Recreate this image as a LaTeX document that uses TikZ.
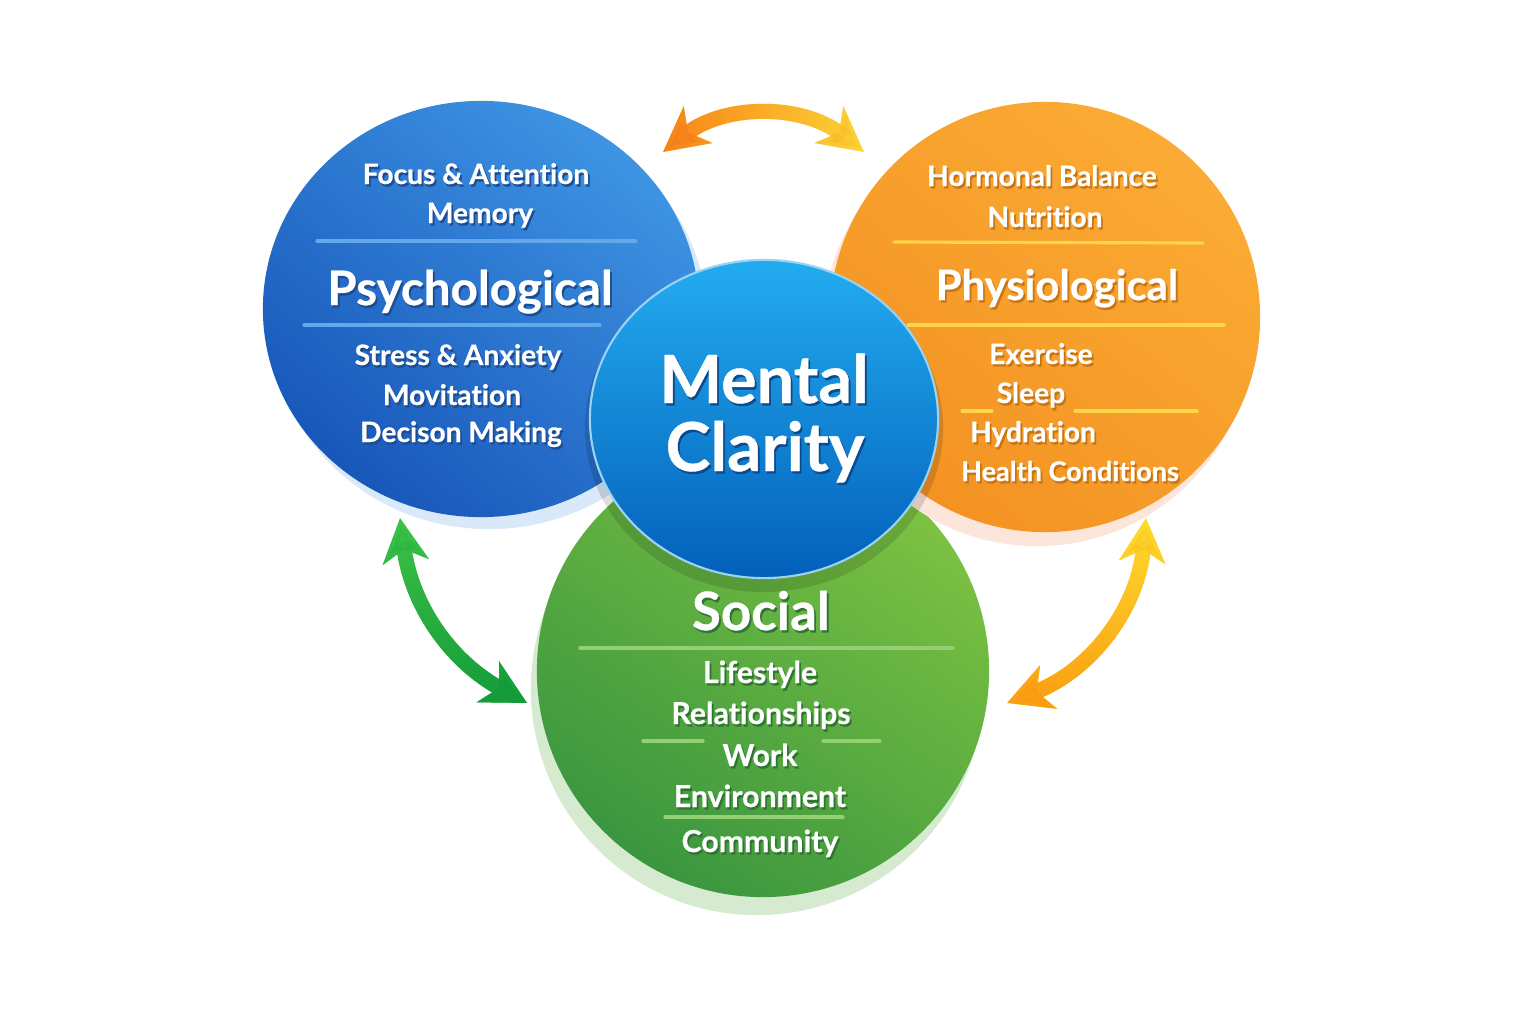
\documentclass[tikz,border=0pt]{standalone}
\usepackage{fontspec}
\setmainfont{Lato}[Ligatures=NoCommon, BoldFeatures={FakeBold=0.6}]
\usepackage{xcolor}
\usetikzlibrary{arrows.meta, positioning, shapes.geometric, fadings}
% circle colours
\definecolor{psyLight}{HTML}{3E94E3}
\definecolor{psyDark}{HTML}{1857BA}
\definecolor{phyLight}{HTML}{FBAB35}
\definecolor{phyDark}{HTML}{F39222}
\definecolor{socLight}{HTML}{7DC242}
\definecolor{socDark}{HTML}{3A963F}
\definecolor{mcLight}{HTML}{23ACF0}
\definecolor{mcDark}{HTML}{0360BA}
\definecolor{mcRim}{HTML}{9AD3F3}
% rules, halos, text shadows
\definecolor{psyLine}{HTML}{64A8EC}
\definecolor{phyLine}{HTML}{FFD54A}
\definecolor{socLine}{HTML}{93CF73}
\definecolor{psySh}{HTML}{D9E9F9}
\definecolor{phySh}{HTML}{FCE5DA}
\definecolor{socSh}{HTML}{D5EACF}
\definecolor{psyTx}{HTML}{1C4C92}
\definecolor{phyTx}{HTML}{C77414}
\definecolor{socTx}{HTML}{2F7531}
\definecolor{mcTx}{HTML}{0B4A8C}
% arrows
\definecolor{arrOrange}{HTML}{F7801A}
\definecolor{arrYellow}{HTML}{FDD835}
\definecolor{arrGreenL}{HTML}{40C548}
\definecolor{arrGreenD}{HTML}{139A3A}
\definecolor{arrGold}{HTML}{FDE02E}
\definecolor{arrAmber}{HTML}{FA9C12}
\newcommand{\shtxt}[2]{\makebox[0pt][l]{\hspace{0.5pt}\raisebox{-0.7pt}{\textcolor{#1}{#2}}}#2}

\begin{document}
\begin{tikzpicture}[x=0.01cm, y=-0.01cm,
    lbl/.style={anchor=base, inner sep=0pt, text=white, font=\bfseries\fontsize{8}{9.6}\selectfont},
    soclbl/.style={lbl, font=\bfseries\fontsize{8.6}{10}\selectfont},
    ttl/.style={lbl, font=\bfseries\fontsize{13.5}{16}\selectfont},
    rule/.style={line width=0.9pt, line cap=round},
    blob/.style={inner sep=0pt, draw=none, outer sep=0pt},
    flow/.style={line width=4.3pt, {Stealth[length=12.5pt,width=13pt,inset=3.5pt]}-{Stealth[length=12.5pt,width=13pt,inset=3.5pt]}}]
    \useasboundingbox[fill=white] (0,0) rectangle (1536,1024);

    % halos and circles
    \node[blob, circle, minimum size=4.52cm, fill=socSh] (socshadow) at (757,689) {};
    \node[blob, circle, minimum size=4.52cm, top color=socLight, bottom color=socDark, shading angle=-35] (soc) at (763,671) {};
    \node[blob, ellipse, minimum width=4.36cm, minimum height=4.16cm, fill=psySh] (psyshadow) at (489,321) {};
    \node[blob, circle, minimum size=4.30cm, fill=phySh] (physhadow) at (1037,331) {};
    \node[blob, ellipse, minimum width=4.36cm, minimum height=4.16cm, top color=psyLight, bottom color=psyDark, shading angle=-40] (psy) at (481,309) {};
    \node[blob, circle, minimum size=4.30cm, top color=phyLight, bottom color=phyDark, shading angle=-40] (phy) at (1045,317) {};
    \node[blob, ellipse, minimum width=3.58cm, minimum height=3.28cm, fill=black, fill opacity=0.13] (mcshadow) at (764,428) {};
    \node[blob, ellipse, minimum width=3.48cm, minimum height=3.18cm, top color=mcLight, bottom color=mcDark, draw=mcRim, line width=0.6pt] (mc) at (764,419) {};

    % rules
    \draw[rule, psyLine] (317,241) -- (636,241);
    \draw[rule, psyLine] (304,325) -- (600,325);
    \draw[rule, phyLine] (894,242) -- (1203,243);
    \draw[rule, phyLine] (908,325) -- (1224,325);
    \draw[rule, phyLine] (962,411) -- (992,411);
    \draw[rule, phyLine] (1075,411) -- (1197,411);
    \draw[rule, socLine] (580,648) -- (953,648);
    \draw[rule, socLine] (643,741) -- (703,741);
    \draw[rule, socLine] (823,741) -- (880,741);
    \draw[rule, socLine] (665,817) -- (843,817);

    % Psychological
    \node[lbl] (focus) at (476,184) {\shtxt{psyTx}{Focus \& Attention}};
    \node[lbl] (memory) at (480,223) {\shtxt{psyTx}{Memory}};
    \node[ttl] (psytitle) at (470,305) {\shtxt{psyTx}{Psychological}};
    \node[lbl] (stress) at (458,365) {\shtxt{psyTx}{Stress \& Anxiety}};
    \node[lbl] (motiv) at (452,405) {\shtxt{psyTx}{Movitation}};
    \node[lbl] (decision) at (461,442) {\shtxt{psyTx}{Decison Making}};

    % Physiological
    \node[lbl] (hormonal) at (1042,186) {\shtxt{phyTx}{Hormonal Balance}};
    \node[lbl] (nutrition) at (1045,227) {\shtxt{phyTx}{Nutrition}};
    \node[ttl, font=\bfseries\fontsize{11.9}{14}\selectfont] (phytitle) at (1057,300) {\shtxt{phyTx}{Physiological}};
    \node[lbl] (exercise) at (1041,364) {\shtxt{phyTx}{Exercise}};
    \node[lbl] (sleep) at (1031,403) {\shtxt{phyTx}{Sleep}};
    \node[lbl] (hydration) at (1033,442) {\shtxt{phyTx}{Hydration}};
    \node[lbl, font=\bfseries\fontsize{7.7}{9.2}\selectfont] (health) at (1070,481) {\shtxt{phyTx}{Health Conditions}};

    % Social
    \node[ttl, font=\bfseries\fontsize{15}{17}\selectfont] (soctitle) at (761,630) {\shtxt{socTx}{Social}};
    \node[soclbl] (lifestyle) at (760,683) {\shtxt{socTx}{Lifestyle}};
    \node[soclbl] (relations) at (761,724) {\shtxt{socTx}{Relationships}};
    \node[soclbl] (work) at (760,766) {\shtxt{socTx}{Work}};
    \node[soclbl] (environ) at (760,807) {\shtxt{socTx}{Environment}};
    \node[soclbl] (community) at (760,852) {\shtxt{socTx}{Community}};

    % Mental Clarity
    \node[lbl, font=\bfseries\fontsize{18.9}{21}\selectfont] (mental) at (764,403) {\shtxt{mcTx}{Mental}};
    \node[lbl, font=\bfseries\fontsize{19.2}{21}\selectfont] (clarity) at (765,471) {\shtxt{mcTx}{Clarity}};

    % two-way arrows
    \coordinate (topL) at (663,152);
    \coordinate (topR) at (864,152);
    \coordinate (leftT) at (400,518);
    \coordinate (leftB) at (527,703);
    \coordinate (rightT) at (1146,518);
    \coordinate (rightB) at (1007,703);
    \draw[flow, arrYellow] (topL) to[bend left=38] (topR);
    \draw[flow, arrOrange, path fading=east] (topL) to[bend left=38] (topR);
    \draw[flow, arrGreenL] (leftT) to[bend right=27] (leftB);
    \draw[flow, arrGreenD, path fading=north] (leftT) to[bend right=27] (leftB);
    \draw[flow, arrGold] (rightT) to[bend left=32] (rightB);
    \draw[flow, arrAmber, path fading=north] (rightT) to[bend left=32] (rightB);
\end{tikzpicture}
\end{document}
